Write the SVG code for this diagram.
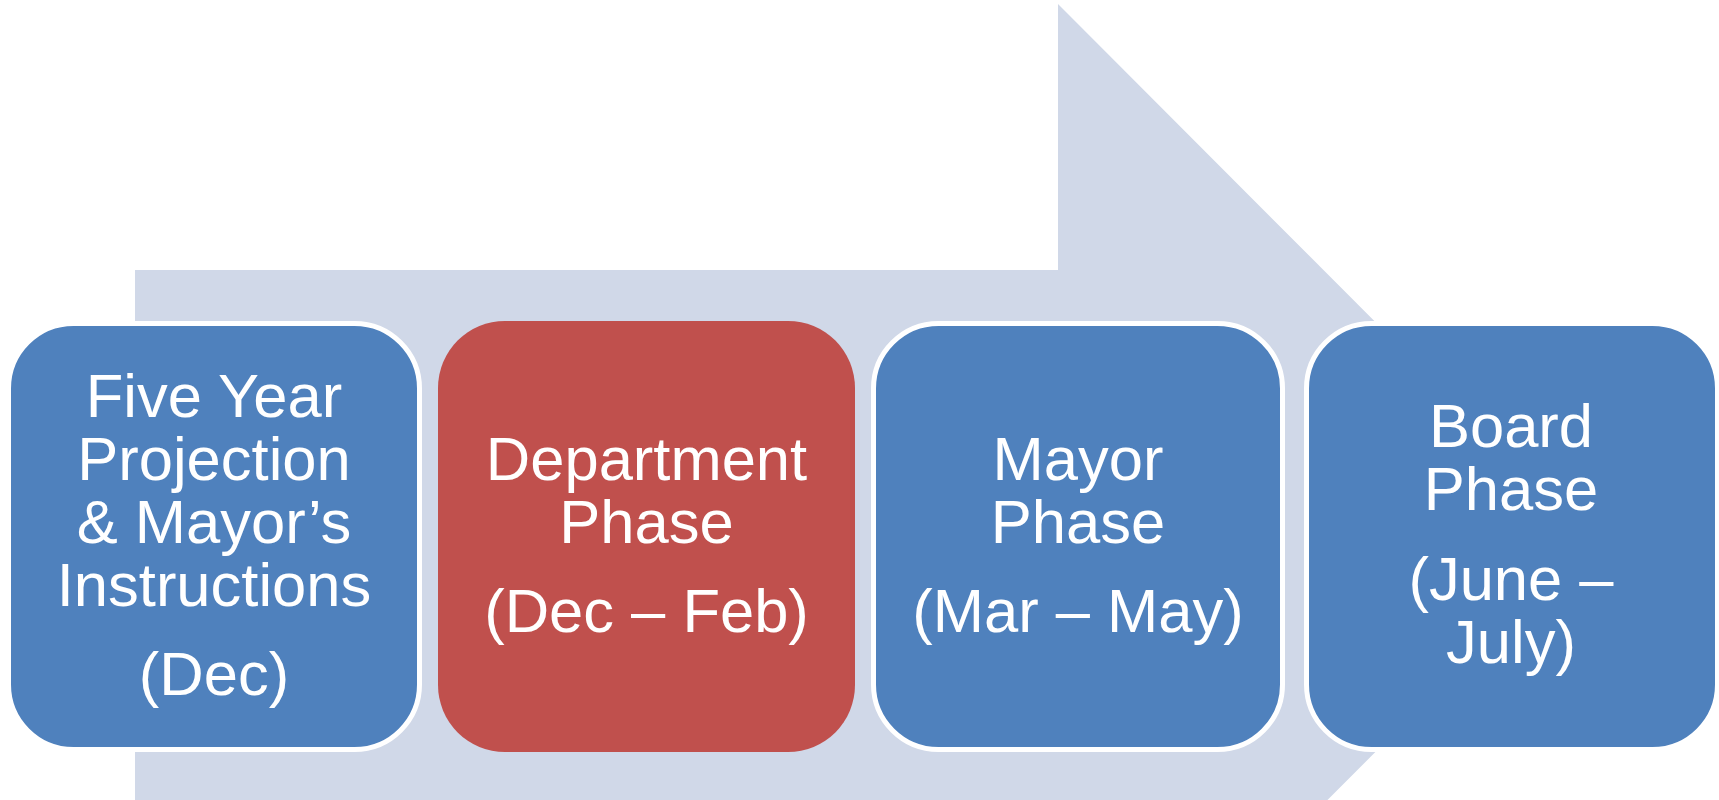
<svg xmlns="http://www.w3.org/2000/svg" width="1719" height="800" viewBox="0 0 1719 800">
  <style>
    .band { fill: #D0D8E8; }
    .blue { fill: #4F81BD; stroke: #FFFFFF; stroke-width: 5; }
    .red { fill: #C0504D; }
    .label { font-family: "Liberation Sans", Arial, sans-serif; font-size: 61.5px; fill: #FFFFFF; text-anchor: middle; }
  </style>
  <rect x="0" y="0" width="1719" height="800" fill="#FFFFFF"/>

  <!-- background process arrow -->
  <g id="connectors">
    <polygon class="band" points="135,270 1058,270 1058,4 1590,537 1058,1070 1058,804 135,804"/>
  </g>

  <g id="step-projection">
    <rect class="blue" x="8.5" y="323.5" width="411" height="426" rx="65" ry="65"/>
    <text class="label" x="214" y="417">Five Year</text>
    <text class="label" x="214" y="480">Projection</text>
    <text class="label" x="214" y="543">&amp; Mayor’s</text>
    <text class="label" x="214" y="606">Instructions</text>
    <text class="label" x="214" y="695">(Dec)</text>
  </g>

  <g id="step-department">
    <rect class="red" x="438" y="321" width="417" height="431" rx="67" ry="67"/>
    <text class="label" x="646.5" y="480">Department</text>
    <text class="label" x="646.5" y="543">Phase</text>
    <text class="label" x="646.5" y="632">(Dec – Feb)</text>
  </g>

  <g id="step-mayor">
    <rect class="blue" x="873.5" y="323.5" width="409" height="426" rx="65" ry="65"/>
    <text class="label" x="1078" y="480">Mayor</text>
    <text class="label" x="1078" y="543">Phase</text>
    <text class="label" x="1078" y="632">(Mar – May)</text>
  </g>

  <g id="step-board">
    <rect class="blue" x="1306.5" y="323.5" width="411" height="426" rx="65" ry="65"/>
    <text class="label" x="1511" y="447">Board</text>
    <text class="label" x="1511" y="510">Phase</text>
    <text class="label" x="1511" y="600">(June –</text>
    <text class="label" x="1511" y="663">July)</text>
  </g>
</svg>
